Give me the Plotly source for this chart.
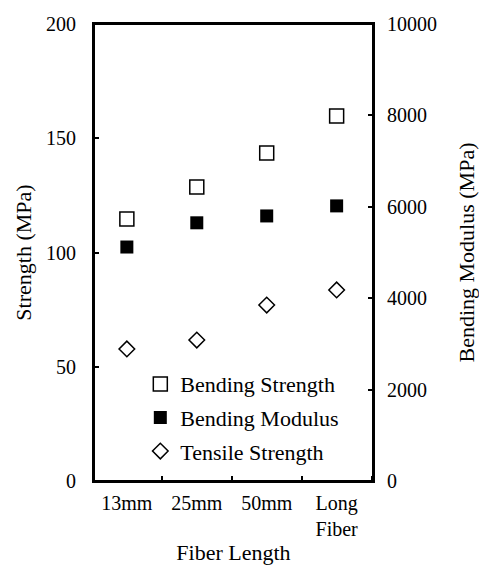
import plotly.graph_objects as go

categories = ["13mm", "25mm", "50mm", "Long<br>Fiber"]
bending_strength = [114.7, 128.7, 143.5, 159.7]   # MPa (left axis)
bending_modulus = [5120, 5650, 5800, 6020]         # MPa (right axis)
tensile_strength = [57.8, 61.7, 77.0, 83.6]        # MPa (left axis)

FONT = "Liberation Serif"

fig = go.Figure()
fig.add_trace(go.Scatter(
    x=categories, y=bending_strength, mode="markers", name="Bending Strength",
    legendgroup="a",
    marker=dict(symbol="square-open", size=14, color="black", line=dict(width=1.5, color="black")),
))
fig.add_trace(go.Scatter(
    x=categories, y=bending_modulus, mode="markers", name="Bending Modulus",
    legendgroup="b", yaxis="y2",
    marker=dict(symbol="square", size=13, color="black"),
))
fig.add_trace(go.Scatter(
    x=categories, y=tensile_strength, mode="markers", name="Tensile Strength",
    legendgroup="c",
    marker=dict(symbol="diamond-open", size=12, color="black", line=dict(width=1.5, color="black")),
))

fig.update_layout(
    width=479, height=565,
    margin=dict(l=94, r=106, t=24, b=84),
    paper_bgcolor="white", plot_bgcolor="white",
    font=dict(family=FONT, size=20, color="black"),
    showlegend=True,
    legend=dict(x=0.166, y=0.258, xanchor="left", yanchor="top",
                bgcolor="rgba(0,0,0,0)", font=dict(size=22, family=FONT),
                traceorder="grouped", tracegroupgap=2, itemwidth=30),
    xaxis=dict(
        type="category", range=[-0.47, 3.52], automargin=False,
        showline=True, linecolor="black", linewidth=2, mirror=True,
        ticks="inside", tickson="boundaries", ticklen=5, tickcolor="black", tickwidth=1.5,
        showgrid=False, zeroline=False,
        ticklabelstandoff=3,
        title=dict(text="Fiber Length", standoff=9, font=dict(size=22)),
    ),
    yaxis=dict(
        range=[0, 200], dtick=50, automargin=False,
        showline=True, linecolor="black", linewidth=2, mirror=True,
        ticks="inside", ticklen=5, tickcolor="black", tickwidth=1.5,
        showgrid=False, zeroline=False,
        ticklabelstandoff=12,
        title=dict(text="Strength (MPa)", standoff=8, font=dict(size=22)),
    ),
    yaxis2=dict(
        range=[0, 10000], dtick=2000, overlaying="y", side="right",
        tickformat="d", automargin=False,
        showline=True, linecolor="black", linewidth=2,
        ticks="inside", ticklen=5, tickcolor="black", tickwidth=1.5,
        showgrid=False, zeroline=False,
        ticklabelstandoff=8,
        title=dict(text="Bending Modulus (MPa)", standoff=26, font=dict(size=22)),
    ),
    shapes=[dict(type="rect", xref="paper", yref="paper", x0=0, y0=0, x1=1, y1=1,
                 line=dict(color="black", width=2), fillcolor="rgba(0,0,0,0)", layer="above")],
)

fig.write_html("out.html", config={"displayModeBar": False},
               post_script="document.body.style.margin='0';")
